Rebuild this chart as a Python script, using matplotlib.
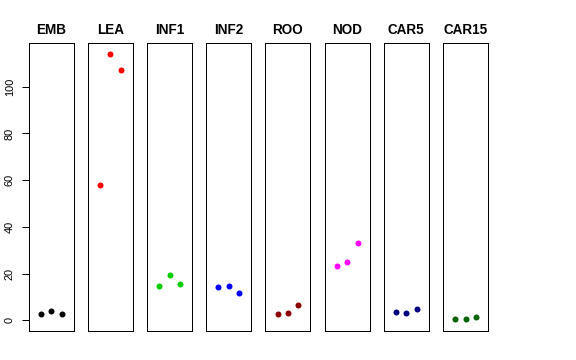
import matplotlib
matplotlib.use("Agg")
import matplotlib.pyplot as plt

plt.rcParams['font.family'] = ['Liberation Sans', 'DejaVu Sans']

groups = ["EMB", "LEA", "INF1", "INF2", "ROO", "NOD", "CAR5", "CAR15"]
colors = ["#000000", "#FF0000", "#00CD00", "#0000FF", "#8B0000", "#FF00FF", "#000080", "#006400"]
reps = [1, 2, 3]
values = {
    "EMB":   [2.6, 4.1, 2.8],
    "LEA":   [58.0, 114.0, 107.0],
    "INF1":  [14.7, 19.5, 15.6],
    "INF2":  [14.4, 14.8, 11.8],
    "ROO":   [2.8, 3.0, 6.5],
    "NOD":   [23.3, 24.9, 33.2],
    "CAR5":  [3.5, 3.1, 4.8],
    "CAR15": [0.4, 0.4, 1.4],
}
yticks = [0, 20, 40, 60, 80, 100]

W, H = 576, 360
fig = plt.figure(figsize=(W / 72, H / 72), dpi=72)

allv = [v for g in groups for v in values[g]]
ymin, ymax = 0.0, max(allv)
ypad = 0.04 * (ymax - ymin)

left0, step, pw = 28.7, 59.19, 45.0
top_px, bot_px = 43.3, 331.0

for i, g in enumerate(groups):
    l = left0 + step * i
    ax = fig.add_axes([l / W, (H - bot_px) / H, pw / W, (bot_px - top_px) / H])
    ax.plot(reps, values[g], 'o', color=colors[i], markersize=6, markeredgewidth=0)
    ax.set_xlim(0 - 0.16, 4 + 0.16)
    ax.set_ylim(ymin - ypad, ymax + ypad)
    for s in ax.spines.values():
        s.set_linewidth(1.0)
        s.set_color("#000000")
    ax.set_xticks([])
    ax.set_title(g, fontsize=13.5, fontweight='bold', pad=9)
    if i == 0:
        ax.set_yticks(yticks)
        ax.set_yticklabels([str(t) for t in yticks], rotation=90, va='center')
        ax.tick_params(axis='y', direction='out', length=7.5, width=1, pad=6.5, labelsize=11)
    else:
        ax.set_yticks([])

fig.savefig("out.png", dpi=72)
